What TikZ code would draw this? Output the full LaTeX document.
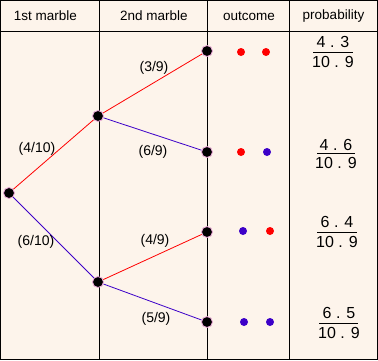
\documentclass[tikz,border=0pt]{standalone}
\usepackage{fontspec}
\setmainfont{Liberation Sans}
\definecolor{bgcol}{RGB}{253,244,235}
\definecolor{redc}{RGB}{255,0,0}
\definecolor{bluec}{RGB}{60,0,200}
\definecolor{glow}{RGB}{240,170,220}
\tikzset{
  grid/.style={draw=black, line width=1pt},
  dotnode/.style={circle, fill=black, draw=glow, line width=0.8pt, minimum size=11pt, inner sep=0pt},
  reddot/.style={circle, fill=redc, minimum size=8pt, inner sep=0pt},
  bluedot/.style={circle, fill=bluec, minimum size=8pt, inner sep=0pt},
  redline/.style={draw=redc, line width=0.8pt},
  blueline/.style={draw=bluec, line width=0.8pt},
  head/.style={font=\fontsize{13.5}{15}\selectfont, inner sep=0pt},
  lbl/.style={font=\fontsize{14}{16}\selectfont, inner sep=0pt},
  num/.style={font=\fontsize{16}{18}\selectfont, inner sep=0pt},
  bar/.style={draw=black, line width=1pt}
}
\begin{document}
\begin{tikzpicture}[x=1pt,y=-1pt]
\useasboundingbox (0,0) rectangle (378,360);
\fill[bgcol] (0,0) rectangle (378,360);
% grid
\draw[grid] (0.5,0.5) rectangle (377.5,359.5);
\draw[grid] (0.5,31.5) -- (377.5,31.5);
\draw[grid] (99.5,0.5) -- (99.5,359.5);
\draw[grid] (207.5,0.5) -- (207.5,359.5);
\draw[grid] (289.5,0.5) -- (289.5,359.5);
% headers
\node[head] (h1) at (45.5,16) {1st marble};
\node[head] (h2) at (154,16) {2nd marble};
\node[head] (h3) at (249,16) {outcome};
\node[head] (h4) at (333.5,16) {probability};
% tree nodes
\node[dotnode] (r) at (9,193) {};
\node[dotnode] (a) at (98,116) {};
\node[dotnode] (b) at (98,282) {};
\node[dotnode] (l1) at (207,51) {};
\node[dotnode] (l2) at (207,152) {};
\node[dotnode] (l3) at (207,232) {};
\node[dotnode] (l4) at (207,322) {};
% edges
\draw[redline] (r) -- (a);
\draw[blueline] (r) -- (b);
\draw[redline] (a) -- (l1);
\draw[blueline] (a) -- (l2);
\draw[redline] (b) -- (l3);
\draw[blueline] (b) -- (l4);
% edge labels
\node[lbl] (e1) at (37,149) {(4/10)};
\node[lbl] (e2) at (36,242) {(6/10)};
\node[lbl] (e3) at (154,68) {(3/9)};
\node[lbl] (e4) at (153,152) {(6/9)};
\node[lbl] (e5) at (155,241) {(4/9)};
\node[lbl] (e6) at (156,319) {(5/9)};
% outcomes
\node[reddot] (o11) at (241,52) {};
\node[reddot] (o12) at (266,52) {};
\node[reddot] (o21) at (241,152) {};
\node[bluedot] (o22) at (267,152) {};
\node[bluedot] (o31) at (243,231) {};
\node[reddot] (o32) at (270,231) {};
\node[bluedot] (o41) at (244,322) {};
\node[bluedot] (o42) at (270,322) {};
% probabilities
\node[num] (n1) at (333,42) {4 . 3};
\node[num] (d1) at (333,62) {10 . 9};
\draw[bar] (313,52) -- (353,52);
\node[num] (n2) at (336,145) {4 . 6};
\node[num] (d2) at (336,163) {10 . 9};
\draw[bar] (317,153.5) -- (355,153.5);
\node[num] (n3) at (337,222) {6 . 4};
\node[num] (d3) at (337,242) {10 . 9};
\draw[bar] (317,232) -- (357,232);
\node[num] (n4) at (339,313) {6 . 5};
\node[num] (d4) at (339,333) {10 . 9};
\draw[bar] (319,323) -- (358,323);
\end{tikzpicture}
\end{document}
